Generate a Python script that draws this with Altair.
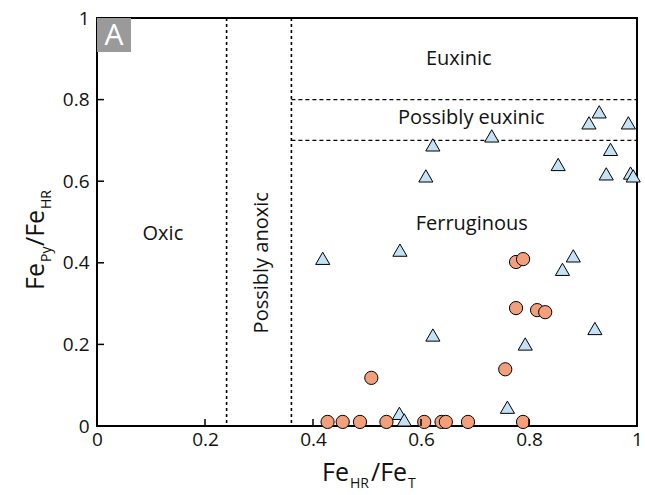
import altair as alt
import pandas as pd

# ---- data ----
circle_x = [0.427, 0.455, 0.487, 0.536, 0.606, 0.638, 0.646, 0.687, 0.789,
            0.776, 0.789, 0.776, 0.815, 0.830, 0.756, 0.508]
circle_y = [0.01, 0.01, 0.01, 0.01, 0.01, 0.01, 0.01, 0.01, 0.01,
            0.402, 0.409, 0.289, 0.284, 0.279, 0.139, 0.118]

tri_x = [0.418, 0.561, 0.882, 0.862, 0.922, 0.622, 0.793, 0.760, 0.560, 0.569,
         0.930, 0.911, 0.984, 0.731, 0.622, 0.951, 0.854, 0.943, 0.988, 0.993, 0.609]
tri_y = [0.411, 0.431, 0.417, 0.384, 0.239, 0.223, 0.201, 0.046, 0.031, 0.015,
         0.770, 0.743, 0.743, 0.711, 0.689, 0.678, 0.641, 0.618, 0.620, 0.613, 0.613]

vlines = [0.24, 0.36]
hlines = [0.8, 0.7]
hline_start = 0.36
hline_end = 1.0
tick_values = [0, 0.2, 0.4, 0.6, 0.8, 1]
inner_ticks = [0.2, 0.4, 0.6, 0.8]

region_text = ["Euxinic", "Possibly euxinic", "Ferruginous", "Oxic"]
region_x = [0.670, 0.693, 0.694, 0.122]
region_y = [0.886, 0.739, 0.480, 0.456]
anoxic_text = "Possibly anoxic"
anoxic_x = 0.305
anoxic_y = 0.40

FONT = "Open Sans"
W, H = 540, 408

sx = alt.Scale(domain=[0, 1], nice=False, zero=False)
sy = alt.Scale(domain=[0, 1], nice=False, zero=False)

circles = pd.DataFrame({"x": circle_x, "y": circle_y})
tris = pd.DataFrame({"x": tri_x, "y": tri_y})
vdf = pd.DataFrame({"v": vlines})
hdf = pd.DataFrame({"v": hlines, "x0": [hline_start] * len(hlines), "x1": [hline_end] * len(hlines)})
tdf = pd.DataFrame({"t": inner_ticks})
rdf = pd.DataFrame({"label": region_text, "x": region_x, "y": region_y})
adf = pd.DataFrame({"label": [anoxic_text], "x": [anoxic_x], "y": [anoxic_y]})

xaxis = alt.Axis(title=None, values=tick_values, format="~g", tickSize=0, domain=False,
                 grid=False, labelFontSize=19, labelFont=FONT, labelColor="#111",
                 labelPadding=4, labelFlush=False)
yaxis = alt.Axis(title=None, values=tick_values, format="~g", tickSize=0, domain=False,
                 grid=False, labelFontSize=19, labelFont=FONT, labelColor="#111",
                 labelPadding=8, labelFlush=False)


def X(f):
    return alt.X(f, scale=sx, axis=xaxis, title=None)


def Y(f):
    return alt.Y(f, scale=sy, axis=yaxis, title=None)


vrules = alt.Chart(vdf).mark_rule(color="black", strokeWidth=1.6, strokeDash=[3, 3]).encode(
    x=X("v:Q")
)
hrules = alt.Chart(hdf).mark_rule(color="black", strokeWidth=1.4, strokeDash=[4, 3]).encode(
    y=Y("v:Q"),
    x=X("x0:Q"),
    x2="x1:Q",
)

circ = alt.Chart(circles).mark_point(
    shape="circle", filled=True, fill="#F2A07C", stroke="black", strokeWidth=1,
    size=175, opacity=1
).encode(x=X("x:Q"), y=Y("y:Q"))

tri = alt.Chart(tris).mark_point(
    shape="triangle-up", filled=True, fill="#C4E2F5", stroke="black", strokeWidth=1,
    size=200, opacity=1
).encode(x=X("x:Q"), y=Y("y:Q"))

regions = alt.Chart(rdf).mark_text(font=FONT, fontSize=20, color="#111", align="center",
                                    baseline="alphabetic").encode(
    x=X("x:Q"), y=Y("y:Q"), text="label:N"
)
anoxic = alt.Chart(adf).mark_text(font=FONT, fontSize=20, color="#111", align="center",
                                   baseline="middle", angle=270).encode(
    x=X("x:Q"), y=Y("y:Q"), text="label:N"
)

xticks = alt.Chart(tdf).mark_rule(color="black", strokeWidth=1.5).encode(
    x=X("t:Q"), y=alt.value(H), y2=alt.value(H - 7)
)
yticks = alt.Chart(tdf).mark_rule(color="black", strokeWidth=1.5).encode(
    y=Y("t:Q"), x=alt.value(0), x2=alt.value(7)
)

# panel label
panel = pd.DataFrame({"label": ["A"]})
abox = alt.Chart(panel).mark_rect(color="#9a9a9a").encode(
    x=alt.value(0), x2=alt.value(34), y=alt.value(0), y2=alt.value(34)
)
atext = alt.Chart(panel).mark_text(font=FONT, fontSize=30, color="white", align="center",
                                    baseline="middle").encode(
    x=alt.value(17), y=alt.value(18), text="label:N"
)


# axis titles with subscripts
def piece(txt, x, y, size, angle=0):
    d = pd.DataFrame({"label": [txt]})
    kw = dict(font=FONT, fontSize=size, color="#111", align="left", baseline="alphabetic")
    if angle:
        kw["angle"] = angle
    return alt.Chart(d).mark_text(**kw).encode(x=alt.value(x), y=alt.value(y), text="label:N")


xt_base = 463
xt_sub = 470
xtitle = [
    piece("Fe", 225, xt_base, 25),
    piece("HR", 253, xt_sub, 14),
    piece("/Fe", 274, xt_base, 25),
    piece("T", 311, xt_sub, 14),
]
yt_base = -53
yt_sub = -46
ytitle = [
    piece("Fe", yt_base, 272, 25, 270),
    piece("Py", yt_sub, 244, 14, 270),
    piece("/Fe", yt_base, 228, 25, 270),
    piece("HR", yt_sub, 191, 14, 270),
]

chart = alt.layer(
    vrules, hrules, circ, tri, regions, anoxic, xticks, yticks, abox, atext,
    *xtitle, *ytitle
).properties(
    width=W, height=H,
    autosize=alt.AutoSizeParams(type="none"),
    padding={"left": 97, "top": 18, "right": 8, "bottom": 69},
).configure_view(stroke="black", strokeWidth=2)

chart.save("out.html", embed_options={"renderer": "svg", "actions": False})
